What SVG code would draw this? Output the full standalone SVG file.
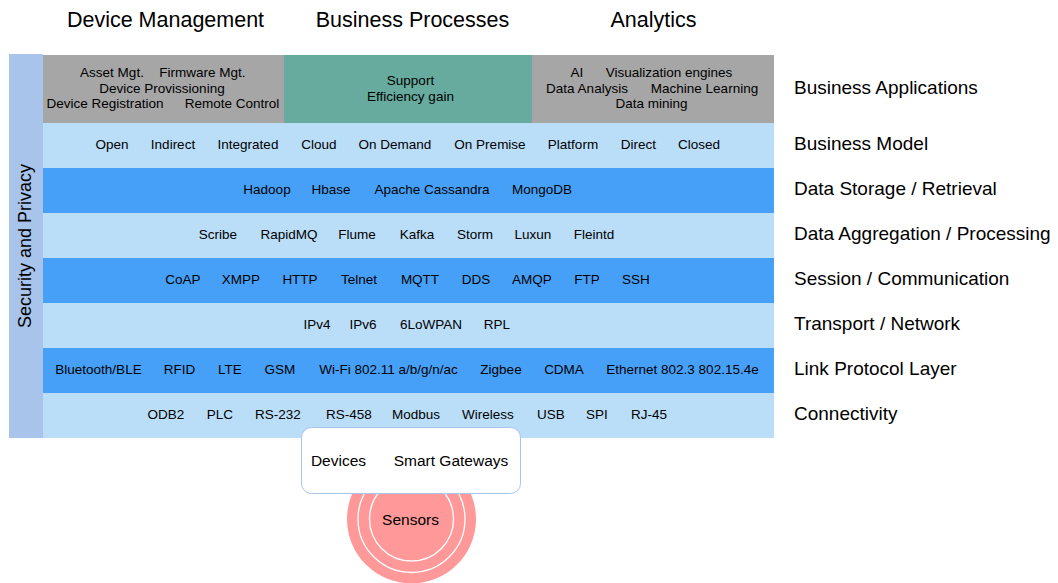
<svg xmlns="http://www.w3.org/2000/svg" width="1058" height="583" viewBox="0 0 1058 583">
<style>
text{font-family:"Liberation Sans",Arial,sans-serif;fill:#000;text-anchor:middle;dominant-baseline:central}
.t{font-size:13.5px}
.b{font-size:15.5px}
.h{font-size:21.5px}
.r{font-size:19px;text-anchor:start}
.light{fill:#bbdef8}
.dark{fill:#47a0f8}
.gray{fill:#a6a6a6}
</style>
<rect width="1058" height="583" fill="#fff"/>
<g id="headers">
<text class="h" x="165.5" y="20">Device Management</text>
<text class="h" x="412.5" y="20">Business Processes</text>
<text class="h" x="653.5" y="20">Analytics</text>
</g>
<g id="security">
<rect x="9" y="54" width="34" height="384" fill="#a9c4eb"/>
<text transform="translate(25,246) rotate(-90)" style="font-size:18px">Security and Privacy</text>
</g>
<g id="business-applications">
<rect class="gray" x="43" y="55" width="241" height="68"/>
<rect x="284" y="55" width="248" height="68" fill="#67ab9f"/>
<rect class="gray" x="532" y="55" width="242" height="68"/>
<text class="t" x="112" y="72.5">Asset Mgt.</text>
<text class="t" x="202.5" y="72.5">Firmware Mgt.</text>
<text class="t" x="162" y="88">Device Provissioning</text>
<text class="t" x="105" y="103.5">Device Registration</text>
<text class="t" x="232" y="103.5">Remote Control</text>
<text class="t" x="410.5" y="80">Support</text>
<text class="t" x="410.5" y="96">Efficiency gain</text>
<text class="t" x="577" y="72.5">AI</text>
<text class="t" x="669" y="72.5">Visualization engines</text>
<text class="t" x="587" y="88">Data Analysis</text>
<text class="t" x="704.5" y="88">Machine Learning</text>
<text class="t" x="651.5" y="103.5">Data mining</text>
<text class="r" x="794" y="87">Business Applications</text>
</g>
<g id="business-model">
<rect class="light" x="43" y="123" width="731" height="45"/>
<text class="t" x="112" y="144">Open</text>
<text class="t" x="173" y="144">Indirect</text>
<text class="t" x="248" y="144">Integrated</text>
<text class="t" x="319" y="144">Cloud</text>
<text class="t" x="395" y="144">On Demand</text>
<text class="t" x="490" y="144">On Premise</text>
<text class="t" x="573" y="144">Platform</text>
<text class="t" x="638.5" y="144">Direct</text>
<text class="t" x="699" y="144">Closed</text>
<text class="r" x="794" y="143">Business Model</text>
</g>
<g id="data-storage">
<rect class="dark" x="43" y="168" width="731" height="45"/>
<text class="t" x="267" y="189">Hadoop</text>
<text class="t" x="331" y="189">Hbase</text>
<text class="t" x="432" y="189">Apache Cassandra</text>
<text class="t" x="542" y="189">MongoDB</text>
<text class="r" x="794" y="188">Data Storage / Retrieval</text>
</g>
<g id="data-aggregation">
<rect class="light" x="43" y="213" width="731" height="45"/>
<text class="t" x="218" y="234">Scribe</text>
<text class="t" x="289" y="234">RapidMQ</text>
<text class="t" x="357" y="234">Flume</text>
<text class="t" x="417" y="234">Kafka</text>
<text class="t" x="475" y="234">Storm</text>
<text class="t" x="533" y="234">Luxun</text>
<text class="t" x="594" y="234">Fleintd</text>
<text class="r" x="794" y="233">Data Aggregation / Processing</text>
</g>
<g id="session">
<rect class="dark" x="43" y="258" width="731" height="45"/>
<text class="t" x="183" y="279">CoAP</text>
<text class="t" x="241" y="279">XMPP</text>
<text class="t" x="300" y="279">HTTP</text>
<text class="t" x="359" y="279">Telnet</text>
<text class="t" x="420" y="279">MQTT</text>
<text class="t" x="476" y="279">DDS</text>
<text class="t" x="532" y="279">AMQP</text>
<text class="t" x="587" y="279">FTP</text>
<text class="t" x="636" y="279">SSH</text>
<text class="r" x="794" y="278">Session / Communication</text>
</g>
<g id="transport">
<rect class="light" x="43" y="303" width="731" height="45"/>
<text class="t" x="317" y="324">IPv4</text>
<text class="t" x="363" y="324">IPv6</text>
<text class="t" x="431" y="324">6LoWPAN</text>
<text class="t" x="497" y="324">RPL</text>
<text class="r" x="794" y="323">Transport / Network</text>
</g>
<g id="link">
<rect class="dark" x="43" y="348" width="731" height="45"/>
<text class="t" x="98.5" y="369">Bluetooth/BLE</text>
<text class="t" x="179.5" y="369">RFID</text>
<text class="t" x="230" y="369">LTE</text>
<text class="t" x="280" y="369">GSM</text>
<text class="t" x="388.5" y="369">Wi-Fi 802.11 a/b/g/n/ac</text>
<text class="t" x="501" y="369">Zigbee</text>
<text class="t" x="564" y="369">CDMA</text>
<text class="t" x="682.5" y="369">Ethernet 802.3 802.15.4e</text>
<text class="r" x="794" y="368">Link Protocol Layer</text>
</g>
<g id="connectivity">
<rect class="light" x="43" y="393" width="731" height="45"/>
<text class="t" x="166" y="414">ODB2</text>
<text class="t" x="220" y="414">PLC</text>
<text class="t" x="278" y="414">RS-232</text>
<text class="t" x="349" y="414">RS-458</text>
<text class="t" x="416" y="414">Modbus</text>
<text class="t" x="488" y="414">Wireless</text>
<text class="t" x="551" y="414">USB</text>
<text class="t" x="597" y="414">SPI</text>
<text class="t" x="649" y="414">RJ-45</text>
<text class="r" x="794" y="413">Connectivity</text>
</g>
<g id="sensors">
<circle cx="411.5" cy="519" r="64.5" fill="#ff9999"/>
<circle cx="411.5" cy="519" r="53.5" fill="none" stroke="#fff" stroke-width="1.3"/>
<circle cx="411.5" cy="519" r="42" fill="none" stroke="#fff" stroke-width="1.3"/>
<text class="b" x="410.5" y="519">Sensors</text>
</g>
<g id="devices">
<rect x="301.5" y="427.5" width="219" height="66" rx="10" fill="#fff" stroke="#a9c4eb"/>
<text class="b" x="338.5" y="460">Devices</text>
<text class="b" x="451" y="460">Smart Gateways</text>
</g>
<g id="connectors"></g>
</svg>
